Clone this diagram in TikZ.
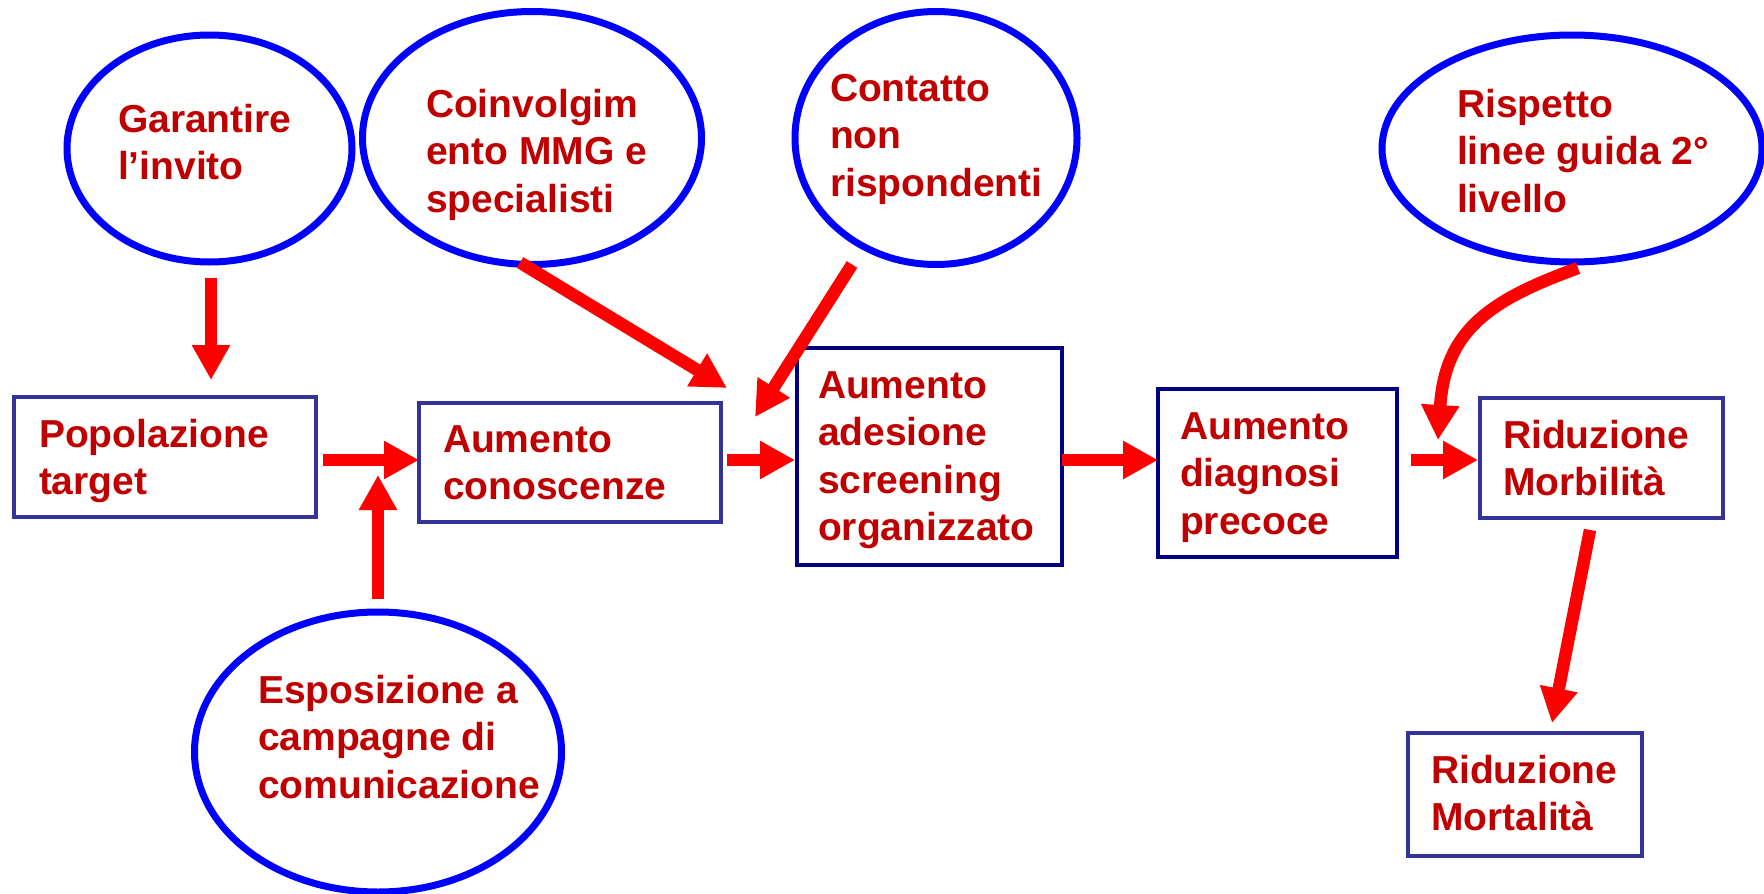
\documentclass[tikz,border=0pt]{standalone}
\usepackage{fontspec}
\setmainfont{Liberation Sans}
\usetikzlibrary{arrows.meta,shapes.geometric,calc}
\definecolor{txtred}{RGB}{192,0,0}
\definecolor{ellblue}{RGB}{0,0,255}
\definecolor{boxblue}{RGB}{51,51,153}
\definecolor{boxnavy}{RGB}{0,0,128}
\definecolor{arrred}{RGB}{255,0,0}
\newcommand\ml[1]{\vtop{\halign{##\hfil\cr#1\crcr}}}
\begin{document}
\begin{tikzpicture}[x=1pt,y=-1pt,
 ell/.style={ellipse, draw=ellblue, line width=7pt, inner sep=0pt, outer sep=0pt},
 boxa/.style={rectangle, draw=boxblue, line width=4.5pt, inner sep=0pt, outer sep=0pt},
 boxb/.style={rectangle, draw=boxnavy, line width=4.5pt, inner sep=0pt, outer sep=0pt},
 txt/.style={anchor=base west, inner sep=0pt, outer sep=0pt, text=txtred, font=\fontsize{39pt}{47.5pt}\selectfont\bfseries},
 arr/.style={draw=arrred, line width=12.5pt, -{Triangle[width=36pt,length=35pt]}},
]
\fill[white] (0,0) rectangle (1764,894);
\useasboundingbox (0,0) rectangle (1764,894);

% ellipses
\node[ell, minimum width=285pt, minimum height=227pt] (gar) at (209.5,148.5) {};
\node[ell, minimum width=339pt, minimum height=253pt] (coi) at (532,138) {};
\node[ell, minimum width=282pt, minimum height=253pt] (cnt) at (936,138) {};
\node[ell, minimum width=380pt, minimum height=227pt] (ris) at (1572,148.5) {};
\node[ell, minimum width=367pt, minimum height=280pt] (esp) at (378,752) {};

% boxes
\node[boxa, minimum width=302pt, minimum height=120pt] (pop) at (165,457) {};
\node[boxa, minimum width=302pt, minimum height=119pt] (cno) at (570,462.5) {};
\node[boxb, minimum width=265pt, minimum height=217pt] (ade) at (929.5,456.5) {};
\node[boxb, minimum width=239pt, minimum height=168pt] (dia) at (1277.5,473) {};
\node[boxa, minimum width=243pt, minimum height=120pt] (mrb) at (1601.5,458) {};
\node[boxa, minimum width=234pt, minimum height=123pt] (mrt) at (1525,794.5) {};

% texts
\node[txt] (gar-t) at (118,132) {\ml{Garantire\cr l’invito}};
\node[txt] (coi-t) at (426,117) {\ml{Coinvolgim\cr ento MMG e\cr specialisti}};
\node[txt] (cnt-t) at (830,101) {\ml{Contatto\cr non\cr rispondenti}};
\node[txt] (ris-t) at (1457,117) {\ml{Rispetto\cr linee guida 2°\cr livello}};
\node[txt] (esp-t) at (258,703) {\ml{Esposizione a\cr campagne di\cr comunicazione}};
\node[txt] (pop-t) at (39,447) {\ml{Popolazione\cr target}};
\node[txt] (cno-t) at (443,452) {\ml{Aumento\cr conoscenze}};
\node[txt] (ade-t) at (818,398) {\ml{Aumento\cr adesione\cr screening\cr organizzato}};
\node[txt] (dia-t) at (1180,439) {\ml{Aumento\cr diagnosi\cr precoce}};
\node[txt] (mrb-t) at (1503,448) {\ml{Riduzione\cr Morbilità}};
\node[txt] (mrt-t) at (1431,783) {\ml{Riduzione\cr Mortalità}};

% free ends
\coordinate (row) at (0,460);
\coordinate (coitip) at (727,388);
\coordinate (cnttip) at (755,417);
\coordinate (esptip) at (378,475);
\coordinate (ristip) at (1438,440);

% connectors
\draw[arr] ($(gar.south)+(1.5,16)$) -- ($(gar.south |- pop.north)+(1.5,-17)$);
\draw[arr] ($(coi.south)+(-12,-2)$) -- (coitip);
\draw[arr] ($(cnt.south)+(-84,0)$) -- (cnttip);
\draw[arr] ($(esp.north)+(0,-13)$) -- (esptip);
\draw[arr] ($(pop.east |- row)+(7,0)$) -- (cno.west |- row);
\draw[arr] ($(cno.east |- row)+(6,0)$) -- ($(ade.west |- row)+(-2,0)$);
\draw[arr] (ade.east |- row) -- (dia.west |- row);
\draw[arr] ($(dia.east |- row)+(14,0)$) -- ($(mrb.west |- row)+(-2,0)$);
\draw[arr] ($(ris.south)+(6,6)$) .. controls (1490,300) and (1445,330) .. (ristip);
\draw[arr] ($(mrb.south)+(-11.5,12)$) -- ($(mrt.north)+(27,-10)$);
\end{tikzpicture}
\end{document}
